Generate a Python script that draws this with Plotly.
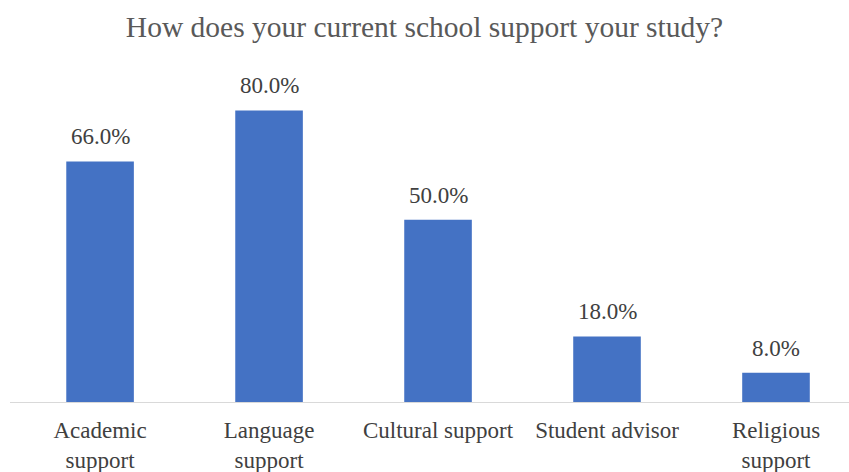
import plotly.graph_objects as go

categories = ["Academic<br>support", "Language<br>support", "Cultural support", "Student advisor", "Religious<br>support"]
values = [66.0, 80.0, 50.0, 18.0, 8.0]
title = "How does your current school support your study?"

xs = list(range(len(categories)))
fig = go.Figure(go.Bar(
    x=xs,
    y=values,
    marker=dict(color="#4472C4", line=dict(width=0)),
    cliponaxis=False,
))

for x, v in zip(xs, values):
    fig.add_annotation(
        x=x, y=v, xref="x", yref="y", text=f"{v:.1f}%",
        showarrow=False, yanchor="bottom", yshift=10,
        font=dict(family="Liberation Serif", size=23, color="#404040"),
    )

fig.update_layout(
    width=849, height=472,
    paper_bgcolor="white", plot_bgcolor="white",
    margin=dict(l=10, r=0, t=74, b=70),
    bargap=0.6,
    showlegend=False,
    title=dict(text=title, x=0.5, xanchor="center", y=0.943, yanchor="middle",
               font=dict(family="Liberation Serif", size=29.5, color="#595959")),
    xaxis=dict(
        tickmode="array", tickvals=xs, ticktext=categories,
        range=[-0.533, 4.432],
        showline=True, linecolor="#D9D9D9", linewidth=1,
        ticks="", showgrid=False, zeroline=False,
        ticklabelstandoff=7,
        tickfont=dict(family="Liberation Serif", size=23, color="#404040"),
    ),
    yaxis=dict(range=[0, 90], visible=False, showgrid=False, zeroline=False),
)

fig.write_html("out.html")
